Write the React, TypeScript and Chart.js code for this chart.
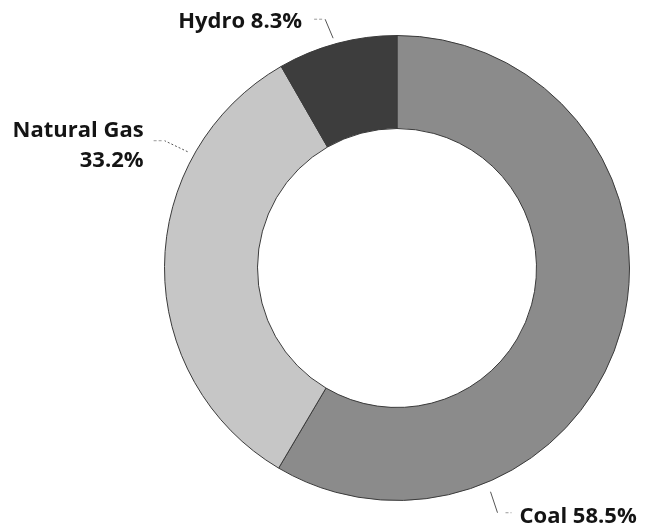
import React, { useEffect, useRef } from "react";
import { Chart, registerables } from "chart.js";

Chart.register(...registerables);

const categories = ["Coal", "Natural Gas", "Hydro"];
const shares = [58.5, 33.2, 8.3];
const colors = ["#8b8b8b", "#c6c6c6", "#3d3d3d"];

// label layout (annotation styling): where on the slice the leader starts, elbow offset, text offset
const labelLayout = [
  { frac: 0.747, gap: 10, elbow: [7, 21], dash: 14, align: "left", text: [22, 10], lines: ["Coal 58.5%"] },
  { frac: 0.74, gap: 7, elbow: [-23, -11], dash: -13, align: "right", text: [-21, -4], lines: ["Natural Gas", "33.2%"] },
  { frac: 0.48, gap: 6, elbow: [-8, -19], dash: -12, align: "right", text: [-23, 9], lines: ["Hydro 8.3%"] },
];

const labelPlugin = {
  id: "leaderLabels",
  afterDraw(chart: any) {
    const ctx = chart.ctx;
    const meta = chart.getDatasetMeta(0);
    ctx.save();
    meta.data.forEach((arc: any, i: number) => {
      const cfg = labelLayout[i];
      const { x, y, startAngle, endAngle, outerRadius } = arc.getProps(
        ["x", "y", "startAngle", "endAngle", "outerRadius"],
        true
      );
      const a = startAngle + (endAngle - startAngle) * cfg.frac;
      const r = outerRadius + cfg.gap;
      const sx = x + Math.cos(a) * r;
      const sy = y + Math.sin(a) * r;
      const ex = sx + cfg.elbow[0];
      const ey = sy + cfg.elbow[1];
      ctx.strokeStyle = "#555";
      ctx.lineWidth = 1;
      ctx.setLineDash(i === 1 ? [2, 2] : []);
      ctx.beginPath();
      ctx.moveTo(sx, sy);
      ctx.lineTo(ex, ey);
      ctx.stroke();
      ctx.strokeStyle = "#999";
      ctx.setLineDash([3, 2]);
      ctx.beginPath();
      const d0 = cfg.dash > 0 ? ex + 8 : ex - 3;
      ctx.moveTo(d0, ey);
      ctx.lineTo(ex + cfg.dash, ey);
      ctx.stroke();
      ctx.setLineDash([]);
      ctx.fillStyle = "#141414";
      ctx.font = "bold 22px 'Open Sans'";
      ctx.textAlign = cfg.align;
      ctx.textBaseline = "alphabetic";
      cfg.lines.forEach((line: string, k: number) => {
        ctx.fillText(line, ex + cfg.text[0], ey + cfg.text[1] + k * 30);
      });
    });
    ctx.restore();
  },
};

export default function App() {
  const ref = useRef<HTMLCanvasElement>(null);
  useEffect(() => {
    document.body.style.margin = "0";
    const chart = new Chart(ref.current!, {
      type: "doughnut",
      data: {
        labels: categories,
        datasets: [
          {
            data: shares,
            backgroundColor: colors,
            borderColor: "#3a3a3a",
            borderWidth: 1,
          },
        ],
      },
      options: {
        responsive: false,
        animation: false,
        cutout: "60%",
        layout: { padding: { top: 35, bottom: 28, left: 164, right: 20 } },
        plugins: { legend: { display: false }, tooltip: { enabled: false } },
      },
      plugins: [labelPlugin],
    });
    return () => chart.destroy();
  }, []);
  return (
    <div style={{ width: 650, height: 529, background: "#fff" }}>
      <canvas ref={ref} width={650} height={529} style={{ display: "block" }} />
    </div>
  );
}
